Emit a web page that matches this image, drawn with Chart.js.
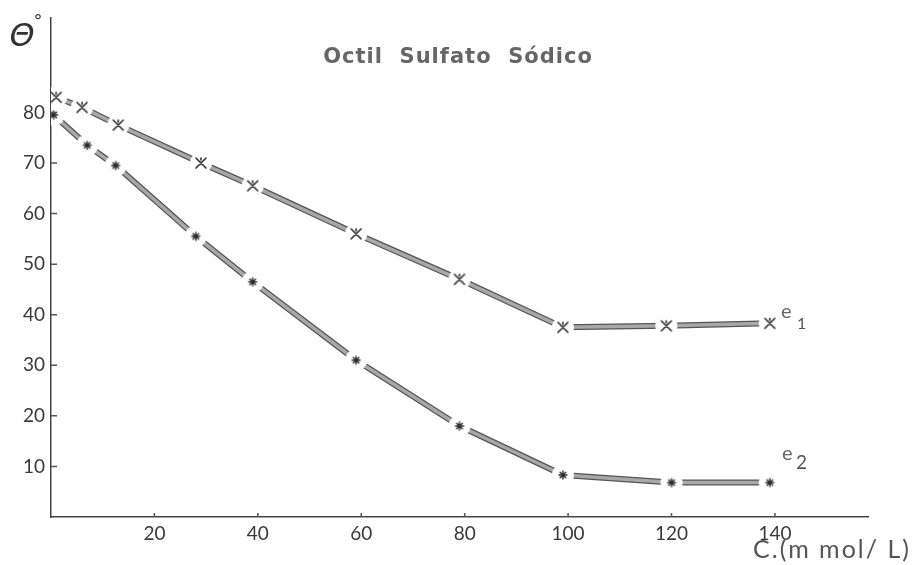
<!DOCTYPE html>
<html>
<head>
<meta charset="utf-8">
<script src="https://cdn.jsdelivr.net/npm/chart.js@4/dist/chart.umd.min.js"></script>
<style>
  html, body { margin: 0; padding: 0; background: #fff; }
  #wrap { width: 920px; height: 565px; position: relative; }
</style>
</head>
<body>
<div id="wrap"><canvas id="angleChart" width="920" height="565"></canvas></div>
<script>
// concentration (m mol/L) and contact angle readings
const e1Conc = [1, 6, 13, 29, 39, 59, 79, 99, 119, 139];
const e1Angle = [83, 81, 77.5, 70, 65.5, 56, 47, 37.5, 37.8, 38.3];
const e2Conc = [0.5, 7, 12.5, 28, 39, 59, 79, 99, 120, 139];
const e2Angle = [79.5, 73.5, 69.5, 55.5, 46.5, 31, 18, 8.3, 6.8, 6.8];

const yTickLabels = [10, 20, 30, 40, 50, 60, 70, 80];
const xTickLabels = [20, 40, 60, 80, 100, 120, 140];

function toPoints(xs, ys) {
    return xs.map(function(x, i) { return { x: x, y: ys[i] }; });
}

// marker with white halo so the line breaks around it
function makeMarker(kind) {
    const c = document.createElement('canvas');
    c.width = 24; c.height = 24;
    const g = c.getContext('2d');
    g.fillStyle = '#fff';
    g.beginPath(); g.arc(12, 12, 11, 0, Math.PI * 2); g.fill();
    g.strokeStyle = '#2e2e2e';
    g.lineCap = 'round';
    g.beginPath();
    if (kind === 'x') {
        g.lineWidth = 1.6;
        g.moveTo(7, 7); g.lineTo(17, 17);
        g.moveTo(17, 7); g.lineTo(7, 17);
        g.moveTo(12, 9); g.lineTo(12, 7);
    } else {
        g.lineWidth = 1.4;
        for (let k = 0; k < 4; k++) {
            const a = k * Math.PI / 4;
            g.moveTo(12 - 4 * Math.cos(a), 12 - 4 * Math.sin(a));
            g.lineTo(12 + 4 * Math.cos(a), 12 + 4 * Math.sin(a));
        }
    }
    g.stroke();
    return c;
}

const markX = makeMarker('x');
const markStar = makeMarker('star');

const lineOpts = {
    showLine: true,
    borderCapStyle: 'round',
    borderJoinStyle: 'round',
    tension: 0
};

const tickMarks = {
    id: 'tickMarks',
    afterDraw(chart) {
        const ctx = chart.ctx;
        const xs = chart.scales.x, ys = chart.scales.y;
        const area = chart.chartArea;
        ctx.save();
        ctx.strokeStyle = '#555';
        ctx.lineWidth = 1.5;
        ctx.beginPath();
        yTickLabels.forEach(function(v) {
            const py = ys.getPixelForValue(v);
            ctx.moveTo(area.left, py); ctx.lineTo(area.left + 6, py);
        });
        xTickLabels.forEach(function(v) {
            const px = xs.getPixelForValue(v);
            ctx.moveTo(px, area.bottom); ctx.lineTo(px, area.bottom - 4);
        });
        ctx.stroke();

        // title and labels
        ctx.fillStyle = '#666';
        ctx.textAlign = 'center';
        ctx.textBaseline = 'middle';
        ctx.letterSpacing = '1px';
        ctx.font = 'bold 21px "DejaVu Sans"';
        ctx.fillText('Octil  Sulfato  Sódico', 458, 58);

        ctx.letterSpacing = '0px';
        ctx.fillStyle = '#333';
        ctx.font = 'italic 32px "DejaVu Sans"';
        ctx.fillText('Θ', 22, 38);
        ctx.font = '18px "DejaVu Sans"';
        ctx.fillText('°', 38, 22);

        ctx.fillStyle = '#555';
        ctx.letterSpacing = '2px';
        ctx.font = '25px Lato';
        ctx.fillText('C.(m mol/ L)', 832, 550);
        ctx.letterSpacing = '0px';

        ctx.fillStyle = '#666';
        ctx.textAlign = 'left';
        ctx.font = '20px Lato';
        ctx.fillText('e', 781, 312);
        ctx.fillText('e', 782, 454);
        ctx.fillStyle = '#555';
        ctx.font = '16px Lato';
        ctx.fillText('1', 797, 324);
        ctx.font = '19px Lato';
        ctx.fillText('2', 796, 463);
        ctx.restore();
    }
};

const ctx = document.getElementById('angleChart').getContext('2d');
const chart = new Chart(ctx, {
    type: 'scatter',
    data: {
        datasets: [
            Object.assign({
                label: 'e1',
                data: toPoints(e1Conc, e1Angle),
                borderColor: '#a8a8a8',
                borderWidth: 3.5,
                pointStyle: markX,
                pointRadius: 10
            }, lineOpts),
            Object.assign({
                label: 'e2',
                data: toPoints(e2Conc, e2Angle),
                borderColor: '#a8a8a8',
                borderWidth: 3.5,
                pointStyle: markStar,
                pointRadius: 10
            }, lineOpts),
            Object.assign({
                label: 'e1 edge',
                data: toPoints(e1Conc, e1Angle),
                borderColor: '#555',
                borderWidth: 6,
                pointRadius: 0
            }, lineOpts),
            Object.assign({
                label: 'e2 edge',
                data: toPoints(e2Conc, e2Angle),
                borderColor: '#555',
                borderWidth: 6,
                pointRadius: 0
            }, lineOpts)
        ]
    },
    options: {
        responsive: false,
        animation: false,
        devicePixelRatio: 1,
        layout: { padding: { left: 0, top: 13, right: 52, bottom: 0 } },
        plugins: {
            legend: { display: false },
            tooltip: { enabled: false },
            title: { display: false }
        },
        scales: {
            x: {
                type: 'linear',
                min: 0,
                max: 158,
                afterFit: function(s) { s.height = 48; },
                ticks: {
                    stepSize: 20,
                    padding: 5,
                    color: '#3a3a3a',
                    font: { family: 'Lato', size: 19 },
                    maxRotation: 0,
                    autoSkip: false,
                    callback: function(v) { return xTickLabels.includes(v) ? v : ''; }
                },
                grid: { display: false, drawTicks: false },
                border: { color: '#444', width: 1.5 }
            },
            y: {
                type: 'linear',
                min: 0,
                max: 98.8,
                afterFit: function(s) { s.width = 51; },
                ticks: {
                    stepSize: 10,
                    padding: 6,
                    color: '#3a3a3a',
                    font: { family: 'Lato', size: 19 },
                    autoSkip: false,
                    callback: function(v) { return yTickLabels.includes(v) ? v : ''; }
                },
                grid: { display: false, drawTicks: false },
                border: { color: '#444', width: 1.5 }
            }
        }
    },
    plugins: [tickMarks]
});
</script>
</body>
</html>
